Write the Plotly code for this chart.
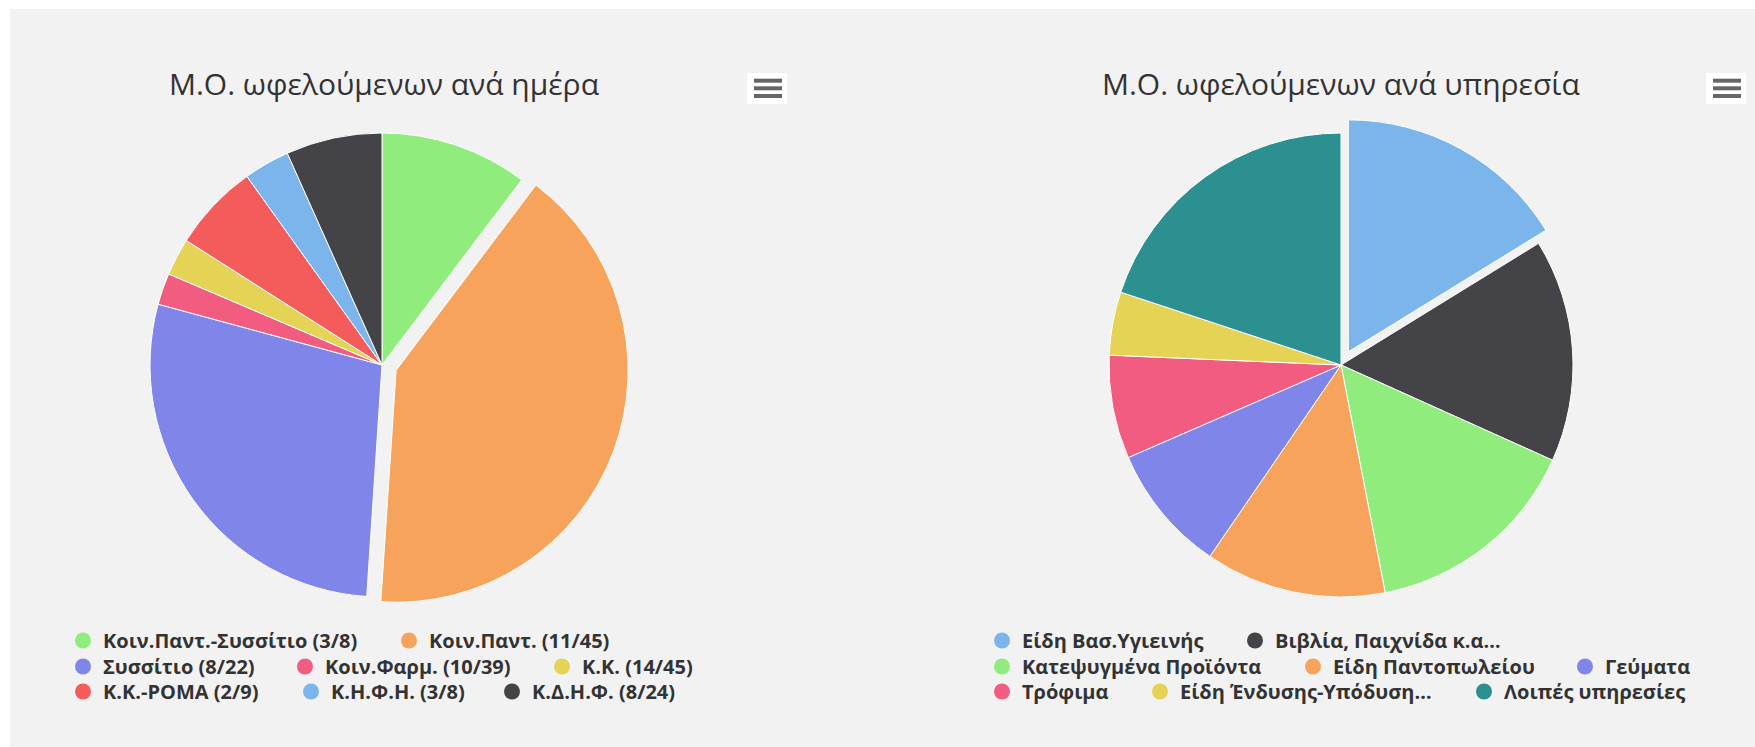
import plotly.graph_objects as go

W, H = 1755, 747

# ---- data ----
title_day = "Μ.Ο. ωφελούμενων ανά ημέρα"
labels_day = ["Κοιν.Παντ.-Συσσίτιο (3/8)", "Κοιν.Παντ. (11/45)", "Συσσίτιο (8/22)",
              "Κοιν.Φαρμ. (10/39)", "Κ.Κ. (14/45)", "Κ.Κ.-ΡΟΜΑ (2/9)",
              "Κ.Η.Φ.Η. (3/8)", "Κ.Δ.Η.Φ. (8/24)"]
values_day = [10.3, 40.8, 28.2, 2.2, 2.6, 6.1, 3.2, 6.7]
colors_day = ["#90ed7d", "#f7a35c", "#8085e9", "#f15c80", "#e4d354", "#f45b5b", "#7cb5ec", "#434348"]
pull_day = [0, 0.065, 0, 0, 0, 0, 0, 0]

title_srv = "Μ.Ο. ωφελούμενων ανά υπηρεσία"
labels_srv = ["Είδη Βασ.Υγιεινής", "Βιβλία, Παιχνίδα κ.α…", "Κατεψυγμένα Προϊόντα",
              "Είδη Παντοπωλείου", "Γεύματα", "Τρόφιμα", "Είδη Ένδυσης-Υπόδυση…",
              "Λοιπές υπηρεσίες"]
values_srv = [16.2, 15.5, 15.2, 12.6, 8.9, 7.2, 4.4, 19.9]
colors_srv = ["#7cb5ec", "#434348", "#90ed7d", "#f7a35c", "#8085e9", "#f15c80", "#e4d354", "#2b908f"]
pull_srv = [0.065, 0, 0, 0, 0, 0, 0, 0]

# legend layout (pixel positions of the symbol centres)
leg_pos_day = [(83, 640.5), (409, 640.5), (83, 666.5), (305, 666.5), (562, 666.5),
               (83, 691.5), (311, 691.5), (512, 691.5)]
leg_pos_srv = [(1002, 640.5), (1255, 640.5), (1002, 666.5), (1313, 666.5), (1585, 666.5),
               (1002, 691.5), (1160, 691.5), (1484, 691.5)]

FONT = "Open Sans"
BG = "#f2f2f2"


def px_x(v):
    return v / W


def px_y(v):
    return 1 - v / H


fig = go.Figure()

R = 232
PULL = 0.065
half = R * (1 + PULL)


def dom(cx, cy):
    return dict(x=[px_x(cx - half), px_x(cx + half)], y=[px_y(cy + half), px_y(cy - half)])


fig.add_trace(go.Pie(labels=labels_day, values=values_day, sort=False, direction="clockwise",
                     rotation=0, pull=pull_day, textinfo="none", hoverinfo="label+value",
                     marker=dict(colors=colors_day, line=dict(color="#ffffff", width=1)),
                     showlegend=False, domain=dom(382, 365)))
fig.add_trace(go.Pie(labels=labels_srv, values=values_srv, sort=False, direction="clockwise",
                     rotation=0, pull=pull_srv, textinfo="none", hoverinfo="label+value",
                     marker=dict(colors=colors_srv, line=dict(color="#ffffff", width=1)),
                     showlegend=False, domain=dom(1341, 365)))

legends = {}
k = 0
for labs, cols, poss in [(labels_day, colors_day, leg_pos_day), (labels_srv, colors_srv, leg_pos_srv)]:
    for lab, col, (cx, cy) in zip(labs, cols, poss):
        k += 1
        lname = "legend" if k == 1 else f"legend{k}"
        fig.add_trace(go.Scatter(x=[None], y=[None], mode="markers", name=lab,
                                 marker=dict(color=col, size=16, symbol="circle"),
                                 legend=lname, showlegend=True, hoverinfo="skip"))
        legends[lname] = dict(x=px_x(cx - 20), y=px_y(cy), xanchor="left", yanchor="middle",
                              orientation="h", bgcolor="rgba(0,0,0,0)", borderwidth=0,
                              font=dict(family=FONT, size=20, color="#333333", weight=700))

# white page strip above and left of the grey panel
shapes = [
    dict(type="rect", xref="paper", yref="paper", x0=-0.02, x1=1.02, y0=px_y(9), y1=1.02,
         fillcolor="#ffffff", line=dict(width=0), layer="below"),
    dict(type="rect", xref="paper", yref="paper", x0=-0.02, x1=px_x(10), y0=-0.02, y1=1.02,
         fillcolor="#ffffff", line=dict(width=0), layer="below"),
]
for bx in (747, 1706):
    shapes.append(dict(type="rect", xref="paper", yref="paper", x0=px_x(bx), x1=px_x(bx + 40),
                       y0=px_y(104), y1=px_y(73), fillcolor="#ffffff", line=dict(width=0),
                       layer="above"))
    for ly in (80.7, 88.3, 96):
        shapes.append(dict(type="line", xref="paper", yref="paper", x0=px_x(bx + 7), x1=px_x(bx + 35),
                           y0=px_y(ly), y1=px_y(ly), line=dict(color="#666666", width=4),
                           layer="above"))

annotations = [
    dict(text=title_day, x=px_x(383.5), y=px_y(84), xref="paper", yref="paper",
         xanchor="center", yanchor="middle", showarrow=False,
         font=dict(family=FONT, size=30, color="#333333")),
    dict(text=title_srv, x=px_x(1341), y=px_y(84), xref="paper", yref="paper",
         xanchor="center", yanchor="middle", showarrow=False,
         font=dict(family=FONT, size=30, color="#333333")),
]

fig.update_layout(width=W, height=H, autosize=False, margin=dict(l=0, r=0, t=0, b=0, pad=0),
                  paper_bgcolor=BG, plot_bgcolor="rgba(0,0,0,0)",
                  xaxis=dict(visible=False), yaxis=dict(visible=False),
                  shapes=shapes, annotations=annotations, **legends)

fig.write_html("out.html", config={"displayModeBar": False},
               post_script=("document.body.style.margin='0';"
                            "document.body.style.overflow='hidden';"
                            "document.body.style.background='" + BG + "';"
                            "document.documentElement.style.background='" + BG + "';"))
